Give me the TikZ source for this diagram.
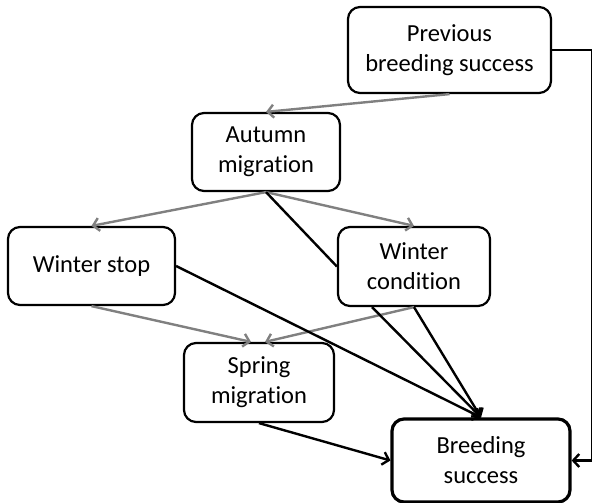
\documentclass[tikz,border=0pt]{standalone}
\usepackage{fontspec}
\setmainfont[Ligatures={NoCommon}]{Carlito}
\usetikzlibrary{arrows.meta}

\begin{document}
\begin{tikzpicture}[x=1pt, y=-1pt, >={Straight Barb[length=6pt,width=13pt]},
  box/.style={draw, line width=2.2pt, rounded corners=12pt, align=center, inner sep=0pt,
    font=\fontsize{24.5}{30}\selectfont},
  grey/.style={->, line width=2.4pt, black!50},
  blk/.style={line width=2.4pt}]
  \useasboundingbox (0,0) rectangle (592,503);
  % boxes, top to bottom
  \node[box, minimum width=203pt, minimum height=86pt] (prev) at (449.5,50) {Previous\\breeding success};
  \node[box, minimum width=148pt, minimum height=78pt] (autumn) at (266,152) {Autumn\\migration};
  \node[box, minimum width=167pt, minimum height=78pt] (wstop) at (91.5,266) {Winter stop};
  \node[box, minimum width=152pt, minimum height=79pt] (wcond) at (414,266.5) {Winter\\condition};
  \node[box, minimum width=150pt, minimum height=79pt] (spring) at (259,382.5) {Spring\\migration};
  \node[box, line width=3.2pt, minimum width=178pt, minimum height=83pt] (breed) at (481,460.5) {Breeding\\success};
  % grey arrows
  \draw[grey] (prev.south) -- (autumn.north);
  \draw[grey] (autumn.south) -- (wstop.north);
  \draw[grey] (autumn.south) -- (wcond.north);
  \draw[grey] (wstop.south) -- ([xshift=-8pt]spring.north);
  \draw[grey] (wcond.south) -- ([xshift=6pt]spring.north);
  % black lines into breeding success
  \draw[blk] (autumn.south) -- (wcond.west);
  \draw[blk, ->] (wstop.east) -- (breed.north);
  \draw[blk, ->] ([xshift=-42pt]wcond.south) -- (breed.north);
  \draw[blk, ->] (wcond.south) -- (breed.north);
  \draw[blk, ->] (spring.south) -- (breed.west);
  % right: feedback along the edge
  \coordinate (edge) at (592.5,50);
  \draw[blk, ->] (prev.east) -- (edge) |- (breed.east);
\end{tikzpicture}
\end{document}
